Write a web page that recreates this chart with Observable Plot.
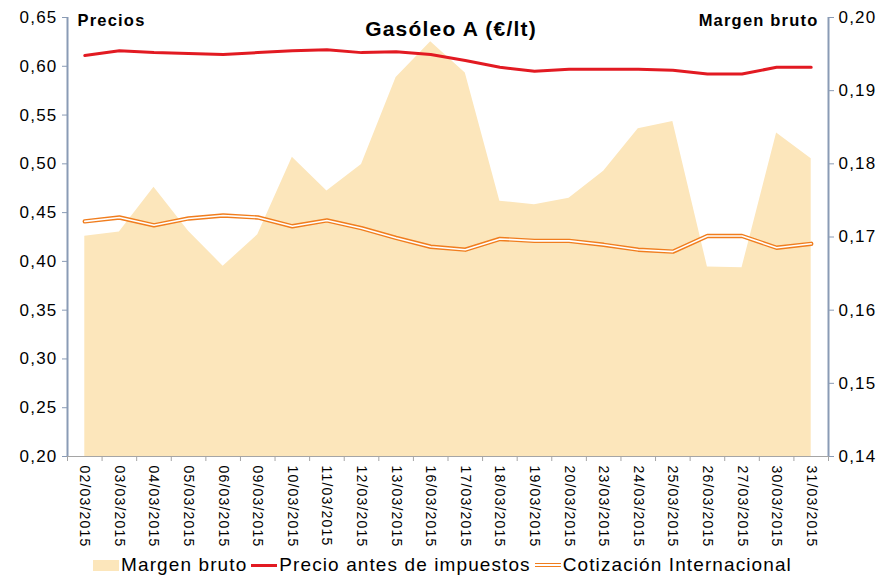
<!DOCTYPE html>
<html>
<head>
<meta charset="utf-8">
<script src="https://cdn.jsdelivr.net/npm/d3@7"></script>
<script src="https://cdn.jsdelivr.net/npm/@observablehq/plot@0.6"></script>
<style>
  html, body { margin: 0; padding: 0; background: #fff; }
  body { width: 885px; height: 578px; overflow: hidden; font-family: "Liberation Sans", Arial, sans-serif; }
  #chart svg text { letter-spacing: 1.2px; }
  .legend { display: flex; justify-content: center; align-items: center; height: 26px; font-size: 19px; letter-spacing: 1.1px; color: #000; }
  .legend .item { display: flex; align-items: center; margin: 0 2px; }
  .legend .sw { display: inline-block; width: 26px; margin-right: 2px; }
  .sw.area { height: 11px; background: #fce6bb; }
  .sw.red { height: 3px; background: #e21a22; }
  .sw.orange { height: 1.6px; background: #fff; border-top: 1.4px solid #f07d1e; border-bottom: 1.4px solid #f07d1e; }
</style>
</head>
<body>
<div id="chart"></div>
<div class="legend">
  <span class="item"><span class="sw area"></span>Margen bruto</span>
  <span class="item"><span class="sw red"></span>Precio antes de impuestos</span>
  <span class="item"><span class="sw orange"></span>Cotización Internacional</span>
</div>
<script>
const dates = ["02/03/2015","03/03/2015","04/03/2015","05/03/2015","06/03/2015","09/03/2015","10/03/2015","11/03/2015","12/03/2015","13/03/2015","16/03/2015","17/03/2015","18/03/2015","19/03/2015","20/03/2015","23/03/2015","24/03/2015","25/03/2015","26/03/2015","27/03/2015","30/03/2015","31/03/2015"];
const margenBruto = [0.1701,0.1707,0.1768,0.1708,0.1660,0.1703,0.1809,0.1763,0.1799,0.1918,0.1967,0.1924,0.1749,0.1744,0.1753,0.1790,0.1848,0.1858,0.1659,0.1658,0.1842,0.1807];
const precioAntesImpuestos = [0.611,0.616,0.614,0.613,0.612,0.614,0.616,0.617,0.614,0.615,0.612,0.606,0.599,0.595,0.597,0.597,0.597,0.596,0.592,0.592,0.599,0.599];
const cotizacionInternacional = [0.441,0.445,0.437,0.444,0.447,0.445,0.436,0.442,0.434,0.424,0.415,0.412,0.423,0.421,0.421,0.417,0.412,0.410,0.426,0.426,0.414,0.418];
const leftTicks = [0.20,0.25,0.30,0.35,0.40,0.45,0.50,0.55,0.60,0.65];
const rightTicks = [0.14,0.15,0.16,0.17,0.18,0.19,0.20];
const leftDomain = [0.20, 0.65];
const rightDomain = [0.14, 0.20];

const toLeft = v => leftDomain[0] + (v - rightDomain[0]) * (leftDomain[1] - leftDomain[0]) / (rightDomain[1] - rightDomain[0]);
const toRight = v => rightDomain[0] + (v - leftDomain[0]) * (rightDomain[1] - rightDomain[0]) / (leftDomain[1] - leftDomain[0]);
const fmt = v => d3.format(".2f")(v).replace(".", ",");

const data = dates.map((d, i) => ({i, date: d, margen: toLeft(margenBruto[i]), precio: precioAntesImpuestos[i], cotiz: cotizacionInternacional[i]}));
const idx = d3.range(dates.length);
const bounds = d3.range(dates.length + 1).map(i => i - 0.5);
const axisColor = "#8a9bb5";
const font = "Liberation Sans, Arial, sans-serif";

const chart = Plot.plot({
  width: 885,
  height: 552,
  marginTop: 17,
  marginBottom: 96,
  marginLeft: 67,
  marginRight: 57,
  style: {fontFamily: font, background: "#fff", color: "#000"},
  x: {type: "linear", domain: [-0.5, dates.length - 0.5], axis: null, label: null},
  y: {domain: leftDomain, axis: null, label: null},
  marks: [
    Plot.areaY(data, {x: "i", y1: leftDomain[0], y2: "margen", fill: "#fce6bb"}),
    Plot.line(data, {x: "i", y: "precio", stroke: "#e21a22", strokeWidth: 3}),
    Plot.line(data, {x: "i", y: "cotiz", stroke: "#f07d1e", strokeWidth: 4.4}),
    Plot.line(data, {x: "i", y: "cotiz", stroke: "#fff", strokeWidth: 1.6}),
    // axis lines
    Plot.ruleY([leftDomain[0]], {stroke: "#a5a5a5", strokeWidth: 1.2}),
    Plot.ruleX([-0.5], {stroke: axisColor, strokeWidth: 2}),
    Plot.ruleX([dates.length - 0.5], {stroke: axisColor, strokeWidth: 2}),
    // left axis
    Plot.axisY({anchor: "left", label: null, ticks: leftTicks, tickFormat: fmt, tickSize: 5, tickPadding: 5, stroke: axisColor, fill: "#000", fontSize: 17}),
    // right axis
    Plot.axisY({anchor: "right", label: null, ticks: rightTicks.map(toLeft), tickFormat: d => fmt(toRight(d)), tickSize: 5, tickPadding: 5, stroke: axisColor, fill: "#000", fontSize: 17}),
    // x ticks at band boundaries
    Plot.axisX({label: null, ticks: bounds, tickFormat: () => "", tickSize: 5, stroke: "#a5a5a5"}),
    // x labels
    Plot.axisX({label: null, ticks: idx, tickFormat: i => dates[i], tickSize: 0, tickPadding: 9, tickRotate: 90, fontSize: 14, fill: "#000"}),
    // titles
    Plot.text(["Gasóleo A (€/lt)"], {frameAnchor: "top", lineAnchor: "middle", dx: 3, dy: 12, fontSize: 21, fontWeight: "bold", fill: "#000"}),
    Plot.text(["Precios"], {frameAnchor: "top-left", textAnchor: "start", lineAnchor: "middle", dx: 10, dy: 3, fontSize: 16.5, fontWeight: "bold", fill: "#000"}),
    Plot.text(["Margen bruto"], {frameAnchor: "top-right", textAnchor: "end", lineAnchor: "middle", dx: -10, dy: 3, fontSize: 16.5, fontWeight: "bold", fill: "#000"})
  ]
});
document.getElementById("chart").appendChild(chart);
</script>
</body>
</html>
